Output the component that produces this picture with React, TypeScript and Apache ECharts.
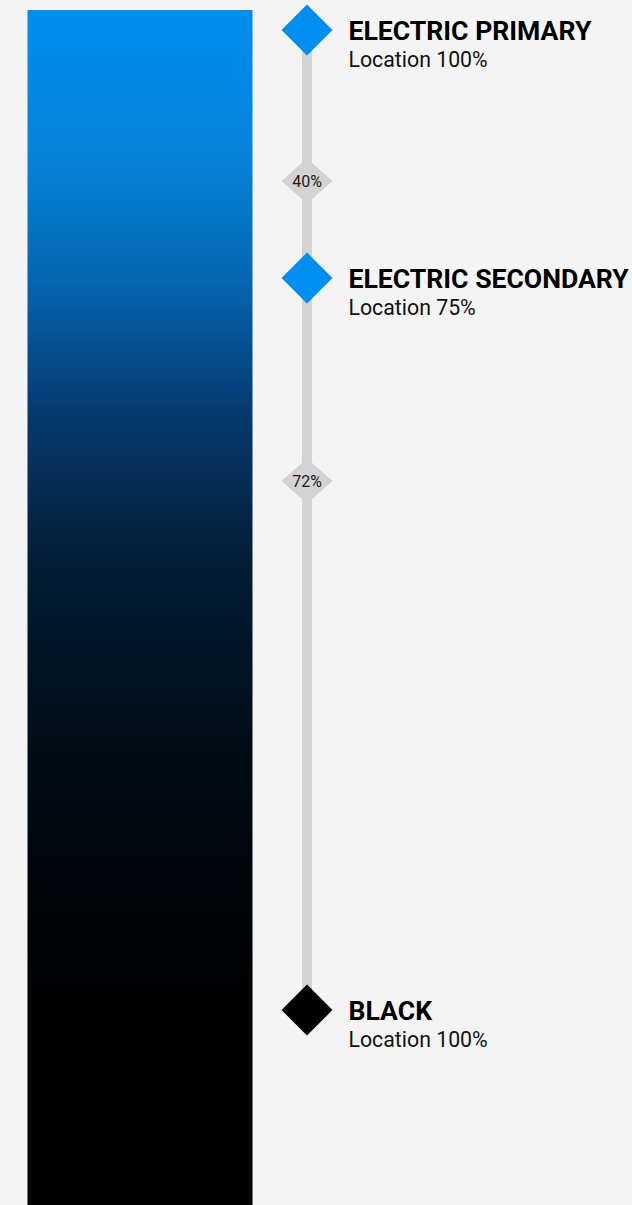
import React, { useEffect, useRef } from "react";
import * as echarts from "echarts";

// Gradient stops (name, colour, location label, position along the track)
const stopNames = ["ELECTRIC PRIMARY", "ELECTRIC SECONDARY", "BLACK"];
const stopColors = ["#008ef0", "#008ef0", "#000000"];
const stopLocations = ["100%", "75%", "100%"];
const stopPositions = [0, 248, 980];

// Midpoint markers between stops
const midLabels = ["40%", "72%"];
const midPositions = [151, 451];

// Rendered gradient of the swatch (offset along the bar, colour)
const swatchOffsets = [0, 0.126, 0.226, 0.335, 0.46, 0.628, 0.84, 1];
const swatchColors = ["#008ef0", "#0582d8", "#0566b2", "#063a70", "#031e36", "#010a13", "#000000", "#000000"];

export default function App() {
  const ref = useRef<HTMLDivElement>(null);

  useEffect(() => {
    document.body.style.margin = "0";
    document.body.style.background = "#f4f4f4";
    const chart = echarts.init(ref.current!, undefined, { renderer: "svg" });

    const gradient = new echarts.graphic.LinearGradient(
      0, 0, 0, 1,
      swatchOffsets.map((o, i) => ({ offset: o, color: swatchColors[i] }))
    );

    chart.setOption({
      animation: false,
      backgroundColor: "#f4f4f4",
      textStyle: { fontFamily: "Roboto" },
      grid: [
        { left: 27.5, top: 10, width: 225, height: 1195 },
        { left: 282, top: 10, width: 50, height: 1195 },
      ],
      xAxis: [
        { gridIndex: 0, type: "category", data: ["swatch"], show: false },
        { gridIndex: 1, type: "value", min: -1, max: 1, show: false },
      ],
      yAxis: [
        { gridIndex: 0, type: "value", min: 0, max: 1, show: false },
        { gridIndex: 1, type: "value", min: -20, max: 1175, inverse: true, show: false },
      ],
      series: [
        {
          type: "bar",
          xAxisIndex: 0,
          yAxisIndex: 0,
          data: [1],
          barWidth: "100%",
          itemStyle: { color: gradient },
          silent: true,
        },
        {
          type: "line",
          xAxisIndex: 1,
          yAxisIndex: 1,
          data: stopPositions.map((p) => [0, p]),
          symbol: "none",
          lineStyle: { width: 10, color: "#d3d3d3" },
          z: 1,
          silent: true,
        },
        {
          type: "scatter",
          xAxisIndex: 1,
          yAxisIndex: 1,
          data: midPositions.map((p, i) => ({ value: [0, p], name: midLabels[i] })),
          symbol: "diamond",
          symbolSize: [51, 45],
          itemStyle: { color: "#d3d3d3", opacity: 1 },
          label: {
            show: true,
            position: "inside",
            formatter: (p: any) => p.name,
            fontSize: 16,
            color: "#1a1a1a",
            fontFamily: "Roboto",
          },
          z: 3,
          silent: true,
        },
        {
          type: "scatter",
          xAxisIndex: 1,
          yAxisIndex: 1,
          data: stopPositions.map((p, i) => ({
            value: [0, p],
            name: stopNames[i],
            itemStyle: { color: stopColors[i], opacity: 1 },
          })),
          symbol: "diamond",
          symbolSize: 51,
          itemStyle: { opacity: 1 },
          label: {
            show: true,
            position: "right",
            distance: 16,
            offset: [0, 13],
            formatter: (p: any) =>
              "{t|" + p.name + "}\n{s|Location " + stopLocations[p.dataIndex] + "}",
            rich: {
              t: { fontSize: 26.6, fontWeight: "bold", color: "#000", lineHeight: 32, fontFamily: "Roboto" },
              s: { fontSize: 21.3, color: "#111", lineHeight: 26, fontFamily: "Roboto" },
            },
          },
          z: 4,
          silent: true,
        },
      ],
    });

    return () => chart.dispose();
  }, []);

  return <div ref={ref} style={{ width: 632, height: 1205 }} />;
}
